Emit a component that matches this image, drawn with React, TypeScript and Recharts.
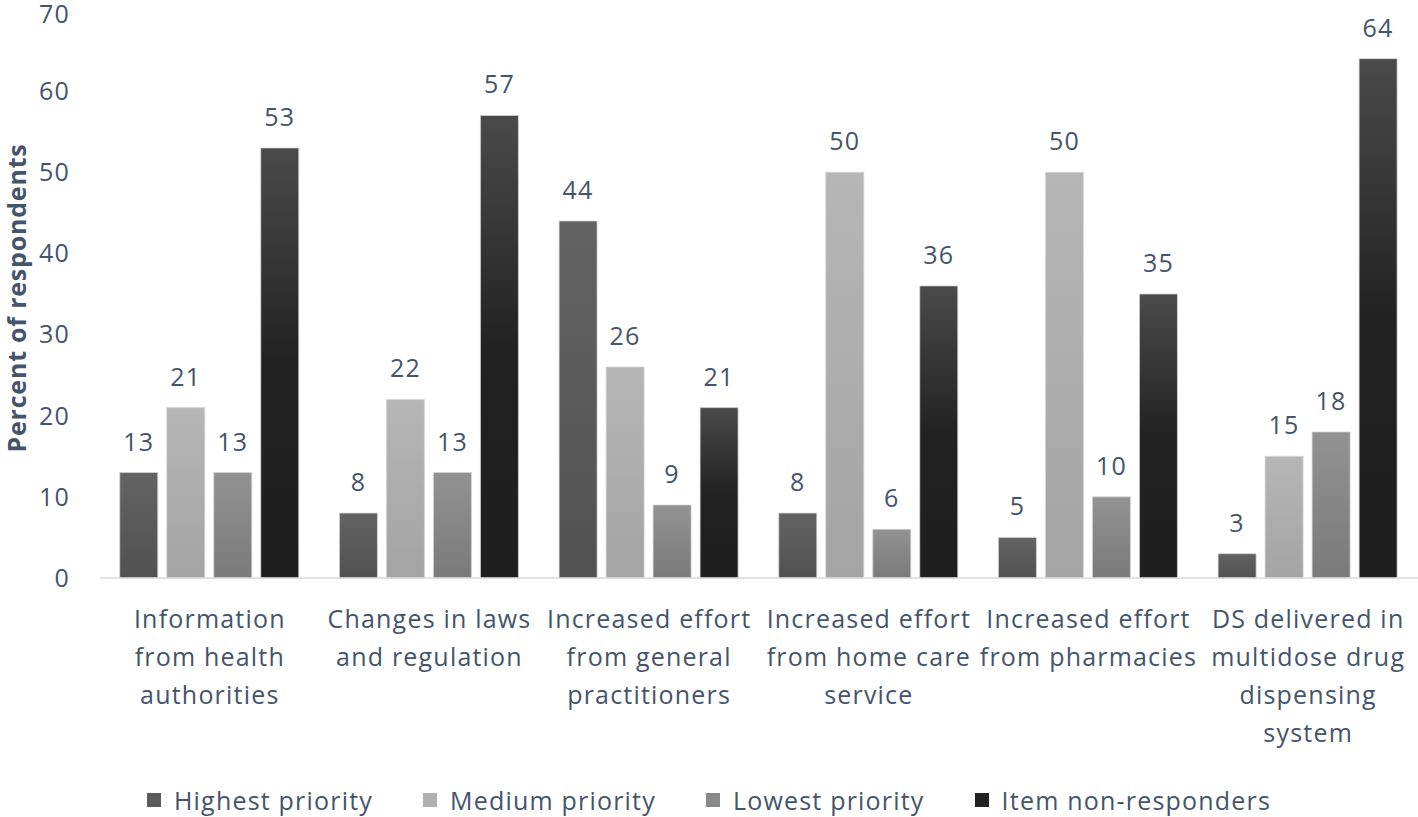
import { Bar, BarChart, LabelList, Legend, XAxis, YAxis } from "recharts";

const categories = [
  "Information from health authorities",
  "Changes in laws and regulation",
  "Increased effort from general practitioners",
  "Increased effort from home care service",
  "Increased effort from pharmacies",
  "DS delivered in multidose drug dispensing system",
];

// how each category label wraps in the picture
const tickLines: string[][] = [
  ["Information", "from health", "authorities"],
  ["Changes in laws", "and regulation"],
  ["Increased effort", "from general", "practitioners"],
  ["Increased effort", "from home care", "service"],
  ["Increased effort", "from pharmacies"],
  ["DS delivered in", "multidose drug", "dispensing", "system"],
];

const highest = [13, 8, 44, 8, 5, 3];
const medium = [21, 22, 26, 50, 50, 15];
const lowest = [13, 13, 9, 6, 10, 18];
const nonResp = [53, 57, 21, 36, 35, 64];

const yTicks = [0, 10, 20, 30, 40, 50, 60, 70];

const data = categories.map((name, i) => ({
  name,
  highest: highest[i],
  medium: medium[i],
  lowest: lowest[i],
  nonResp: nonResp[i],
}));

const textColor = "#44546a";
const font = "'Open Sans', sans-serif";
const fs = 25;
const ls = 1.2;

const series = [
  { key: "highest", label: "Highest priority", grad: "gHigh", swatch: "#5a5a5a", top: "#636363", mid: "#5a5a5a", bottom: "#515151" },
  { key: "medium", label: "Medium priority", grad: "gMed", swatch: "#b0b0b0", top: "#b6b6b6", mid: "#adadad", bottom: "#a4a4a4" },
  { key: "lowest", label: "Lowest priority", grad: "gLow", swatch: "#888888", top: "#929292", mid: "#868686", bottom: "#7a7a7a" },
  { key: "nonResp", label: "Item non-responders", grad: "gNon", swatch: "#222222", top: "#4a4a4a", mid: "#222222", bottom: "#1e1e1e" },
];

const CategoryTick = (props: any) => {
  const { x, y, payload } = props;
  const lines = tickLines[payload.index] ?? [payload.value];
  return (
    <text
      x={x}
      y={y}
      textAnchor="middle"
      fill={textColor}
      fontSize={fs}
      fontFamily={font}
      letterSpacing={ls}
    >
      {lines.map((l, i) => (
        <tspan key={i} x={x} y={y + 42 + i * 38}>
          {l}
        </tspan>
      ))}
    </text>
  );
};

const LegendContent = () => (
  <div
    style={{
      display: "flex",
      justifyContent: "center",
      gap: 50,
      fontFamily: font,
      fontSize: fs,
      letterSpacing: ls,
      color: textColor,
      marginTop: 6,
      paddingLeft: 0,
    }}
  >
    {series.map((s) => (
      <div key={s.key} style={{ display: "flex", alignItems: "center" }}>
        <span
          style={{
            display: "inline-block",
            width: 14,
            height: 14,
            background: s.swatch,
            marginRight: 13,
          }}
        />
        {s.label}
      </div>
    ))}
  </div>
);

export default function App() {
  return (
    <div style={{ position: "absolute", left: 0, top: 0, background: "#fff" }}>
      <BarChart
        width={1418}
        height={817}
        data={data}
        margin={{ top: 10, right: 0, bottom: 0, left: 0 }}
        barCategoryGap="9%"
        barGap={9}
      >
        <defs>
          {series.map((s) => (
            <linearGradient key={s.grad} id={s.grad} x1="0" y1="0" x2="0" y2="1">
              <stop offset="0%" stopColor={s.top} />
              <stop offset="50%" stopColor={s.mid} />
              <stop offset="100%" stopColor={s.bottom} />
            </linearGradient>
          ))}
        </defs>
        <XAxis
          dataKey="name"
          height={199}
          interval={0}
          tick={<CategoryTick />}
          tickLine={false}
          axisLine={{ stroke: "#d9d9d9", strokeWidth: 1.5 }}
        />
        <YAxis
          width={100}
          domain={[0, 70]}
          ticks={yTicks}
          axisLine={false}
          tickLine={false}
          tickMargin={24}
          tick={{ fill: textColor, fontSize: fs, fontFamily: font, letterSpacing: ls }}
          label={{
            value: "Percent of respondents",
            angle: -90,
            position: "insideLeft",
            dx: 12,
            dy: 4,
            style: {
              fill: textColor,
              fontSize: fs,
              fontWeight: 700,
              fontFamily: font,
              letterSpacing: 0.8,
              textAnchor: "middle",
            },
          }}
        />
        <Legend verticalAlign="bottom" height={40} content={<LegendContent />} />
        {series.map((s) => (
          <Bar
            key={s.key}
            dataKey={s.key}
            name={s.label}
            fill={`url(#${s.grad})`}
            stroke="#d4d4d4"
            strokeWidth={0.75}
            isAnimationActive={false}
          >
            <LabelList
              dataKey={s.key}
              position="top"
              offset={22}
              fill={textColor}
              fontSize={fs}
              fontFamily={font}
              letterSpacing={ls}
            />
          </Bar>
        ))}
      </BarChart>
    </div>
  );
}
